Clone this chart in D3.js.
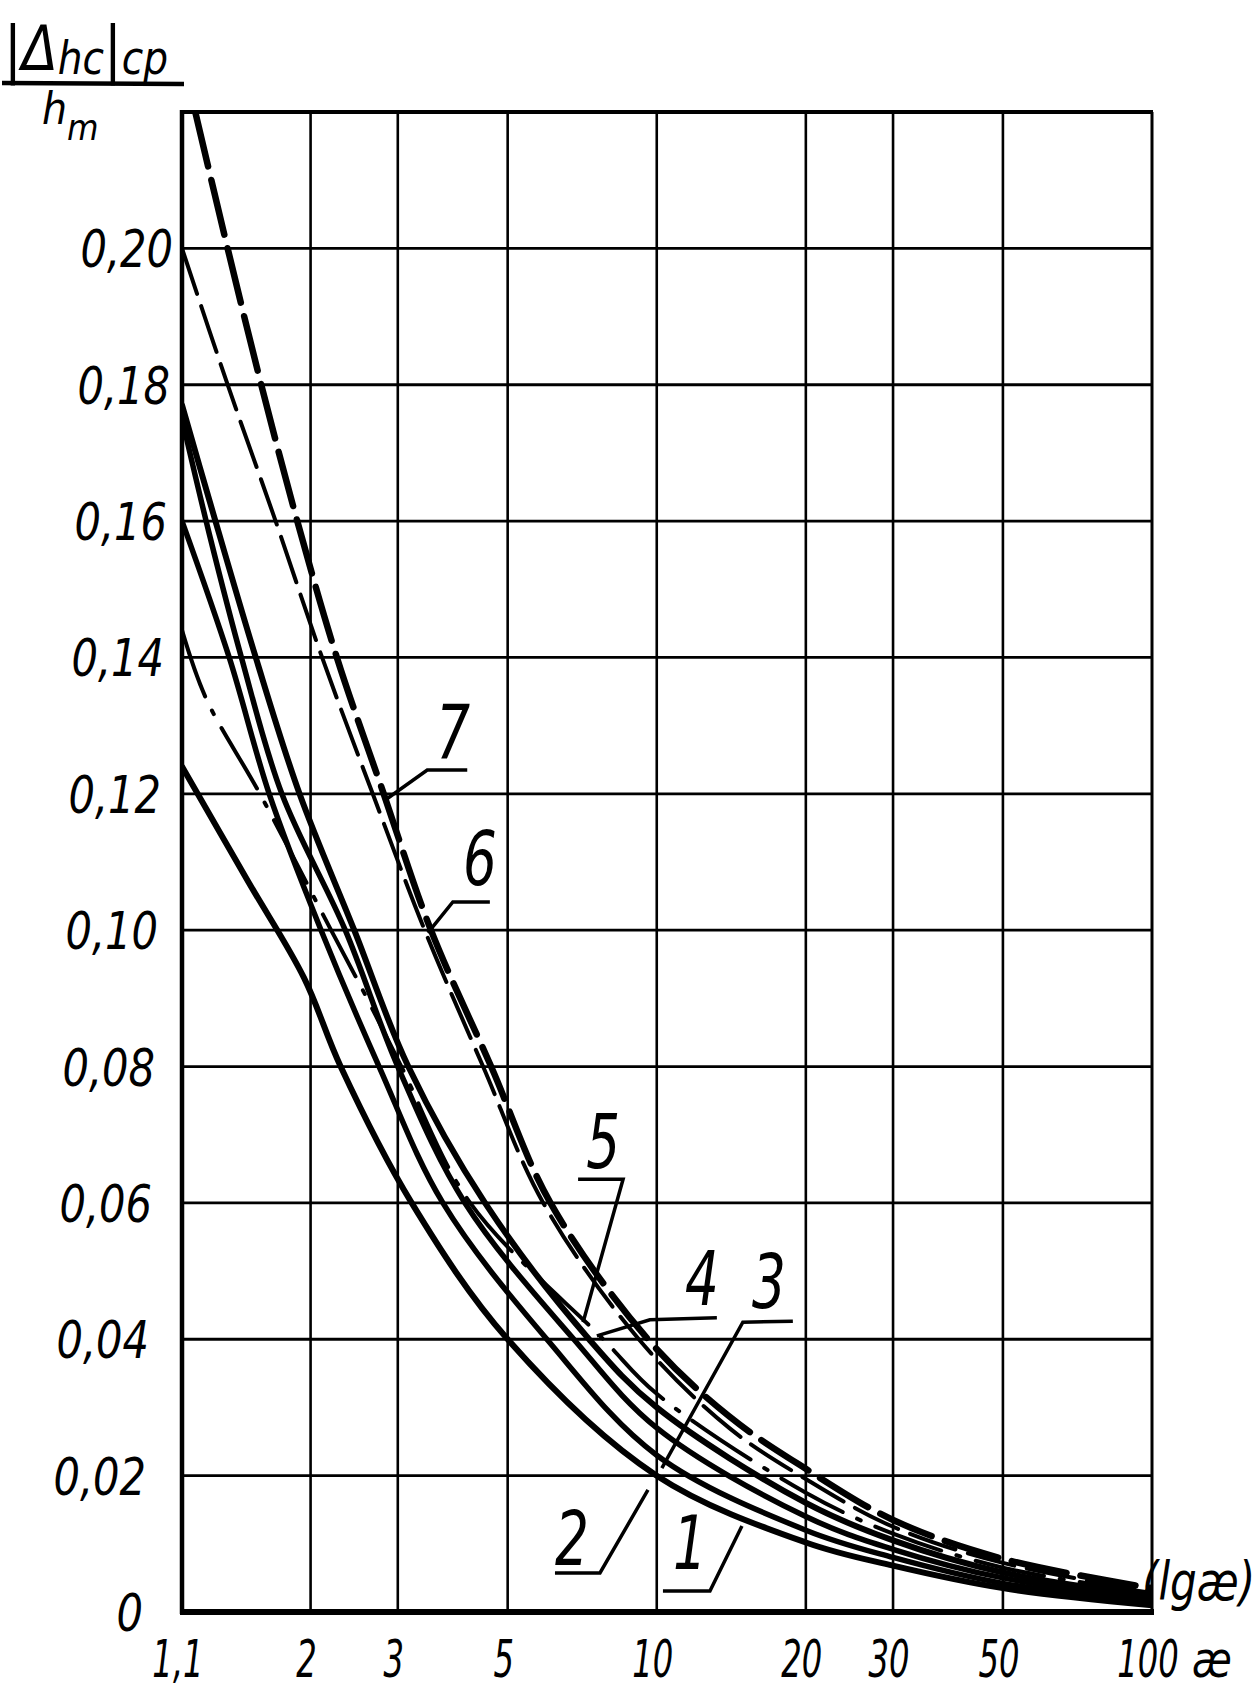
<!DOCTYPE html>
<html>
<head>
<meta charset="utf-8">
<script src="https://cdn.jsdelivr.net/npm/d3@7"></script>
<style>
  body { margin: 0; background: #fff; }
  text { font-family: "DejaVu Sans", sans-serif; font-style: italic; fill: #000; }
</style>
</head>
<body>
<script>
// axis ticks
const xTicks = [1.1, 2, 3, 5, 10, 20, 30, 50, 100];
const xTickLabels = ["1,1", "2", "3", "5", "10", "20", "30", "50", "100"];
const yTicks = [0, 0.02, 0.04, 0.06, 0.08, 0.10, 0.12, 0.14, 0.16, 0.18, 0.20];
const yTickLabels = ["0", "0,02", "0,04", "0,06", "0,08", "0,10", "0,12", "0,14", "0,16", "0,18", "0,20"];

// curves (x = ae, y = |dhc|cp / hm)
const c1x = [1.1, 1.5, 1.94, 2.3, 3.2, 5.0, 10, 20, 30, 50, 100];
const c1y = [0.124, 0.107, 0.093, 0.080, 0.060, 0.040, 0.020, 0.0102, 0.0068, 0.0035, 0.001];
const c2x = [1.1, 1.37, 1.65, 2.1, 2.75, 3.7, 6.0, 10, 20, 30, 50, 100];
const c2y = [0.160, 0.140, 0.120, 0.100, 0.080, 0.060, 0.040, 0.023, 0.012, 0.008, 0.0042, 0.0015];
const c3x = [1.1, 1.25, 1.45, 1.75, 2.35, 3.0, 4.1, 6.8, 10, 20, 30, 50, 100];
const c3y = [0.175, 0.158, 0.140, 0.120, 0.100, 0.080, 0.060, 0.040, 0.027, 0.014, 0.0092, 0.005, 0.002];
const c4x = [1.1, 1.23, 1.58, 2.2, 2.6, 3.05, 4.2, 7.8, 10, 20, 30, 50, 100];
const c4y = [0.144, 0.134, 0.120, 0.100, 0.090, 0.080, 0.060, 0.040, 0.032, 0.0175, 0.0115, 0.0065, 0.0028];
const c5x = [1.1, 1.25, 1.55, 1.9, 2.45, 3.15, 4.5, 7.3, 10, 20, 30, 50, 100];
const c5y = [0.177, 0.163, 0.140, 0.120, 0.100, 0.080, 0.060, 0.040, 0.030, 0.016, 0.0105, 0.0058, 0.0024];
const c6x = [1.1, 1.36, 1.70, 2.11, 2.67, 3.4, 4.46, 5.9, 9.2, 14, 20, 30, 50, 100];
const c6y = [0.200, 0.180, 0.160, 0.140, 0.120, 0.100, 0.080, 0.060, 0.040, 0.027, 0.0195, 0.0125, 0.0072, 0.003];
const c7x = [1.17, 1.36, 1.59, 1.88, 2.26, 2.81, 3.5, 4.63, 6.1, 9.6, 14, 20, 30, 50, 100];
const c7y = [0.220, 0.200, 0.180, 0.160, 0.140, 0.120, 0.100, 0.080, 0.060, 0.040, 0.0287, 0.021, 0.0135, 0.0078, 0.0035];

// curve labels and where their leaders touch
const labelNames = ["1", "2", "3", "4", "5", "6", "7"];
const labelTipX = [14.86, 9.60, 10.24, 7.57, 7.10, 3.45, 2.83];
const labelTipY = [0.0126, 0.0179, 0.0211, 0.0405, 0.0425, 0.0996, 0.1191];

const width = 1260, height = 1692;
const mLeft = 182, mRight = 1152, mTop = 112, mBottom = 1612;

const x = d3.scaleLog().domain([1.1, 100]).range([mLeft, mRight]);
const y = d3.scaleLinear().domain([0, 0.22]).range([mBottom, mTop]);

const svg = d3.select("body").append("svg")
    .attr("width", width)
    .attr("height", height);

svg.append("rect").attr("width", width).attr("height", height).attr("fill", "#fff");

// squeezed italic text, like the hand lettering
function label(txt, px, py, size, sx, anchor) {
    return svg.append("text")
        .attr("transform", `translate(${px},${py}) scale(${sx},1)`)
        .attr("text-anchor", anchor || "middle")
        .attr("font-size", size)
        .text(txt);
}

// grid
svg.append("g").selectAll("line")
    .data(xTicks.slice(1, -1)).enter()
    .append("line")
    .attr("x1", d => x(d)).attr("x2", d => x(d))
    .attr("y1", mTop).attr("y2", mBottom)
    .attr("stroke", "#000").attr("stroke-width", 2.6);

svg.append("g").selectAll("line")
    .data(yTicks.slice(1)).enter()
    .append("line")
    .attr("x1", mLeft).attr("x2", mRight)
    .attr("y1", d => y(d)).attr("y2", d => y(d))
    .attr("stroke", "#000").attr("stroke-width", 2.8);

// frame
svg.append("line").attr("x1", mLeft - 2).attr("x2", mRight + 1).attr("y1", mTop).attr("y2", mTop)
    .attr("stroke", "#000").attr("stroke-width", 4);
svg.append("line").attr("x1", mLeft).attr("x2", mLeft).attr("y1", mTop - 2).attr("y2", mBottom + 2)
    .attr("stroke", "#000").attr("stroke-width", 4.5);
svg.append("line").attr("x1", mRight).attr("x2", mRight).attr("y1", mTop).attr("y2", mBottom)
    .attr("stroke", "#000").attr("stroke-width", 3);
svg.append("line").attr("x1", mLeft - 2).attr("x2", mRight + 2).attr("y1", mBottom).attr("y2", mBottom)
    .attr("stroke", "#000").attr("stroke-width", 6);

// curves
const curves = [
    { xs: c1x, ys: c1y, w: 6, dash: null },
    { xs: c2x, ys: c2y, w: 5.5, dash: null },
    { xs: c3x, ys: c3y, w: 5.5, dash: null },
    { xs: c4x, ys: c4y, w: 4, dash: "70,16,4,16" },
    { xs: c5x, ys: c5y, w: 6, dash: null },
    { xs: c6x, ys: c6y, w: 4, dash: "48,13" },
    { xs: c7x, ys: c7y, w: 6.5, dash: "56,14" }
];

svg.append("clipPath").attr("id", "plot")
    .append("rect").attr("x", mLeft).attr("y", mTop).attr("width", mRight - mLeft).attr("height", mBottom - mTop);

const line = d3.line()
    .x(d => x(d[0]))
    .y(d => y(d[1]))
    .curve(d3.curveCatmullRom.alpha(0.5));

svg.append("g").attr("clip-path", "url(#plot)")
    .selectAll("path")
    .data(curves).enter()
    .append("path")
    .attr("d", c => line(c.xs.map((v, i) => [v, c.ys[i]])))
    .attr("fill", "none")
    .attr("stroke", "#000")
    .attr("stroke-width", c => c.w)
    .attr("stroke-dasharray", c => c.dash)
    .attr("stroke-linecap", "round");

// y tick labels (lean a little left going down, like the original)
yTicks.forEach((t, i) => {
    const py = y(t);
    label(yTickLabels[i], 173 - (py - 250) * 0.022, py + 19, 52, 0.8, "end");
});

// x tick labels
xTicks.forEach((t, i) => {
    label(xTickLabels[i], x(t) - 4, 1677, 52, 0.62, "middle");
});
label("æ", 1212, 1677, 50, 0.8, "middle");
label("(lgæ)", 1142, 1600, 54, 0.78, "start");

// axis title |Δhc|cp / hm
const title = svg.append("text")
    .attr("transform", "translate(4,70) scale(0.85,1)")
    .attr("font-size", 62);
title.append("tspan").text("|Δ");
title.append("tspan").attr("font-size", 46).attr("dy", 4).text("hc");
title.append("tspan").attr("font-size", 62).attr("dy", -4).text("|");
title.append("tspan").attr("font-size", 46).attr("dy", 4).text("cp");
svg.append("line").attr("x1", 2).attr("x2", 184).attr("y1", 83).attr("y2", 84)
    .attr("stroke", "#000").attr("stroke-width", 4.5);
const den = svg.append("text")
    .attr("transform", "translate(42,124) scale(0.9,1)")
    .attr("font-size", 44);
den.append("tspan").text("h");
den.append("tspan").attr("font-size", 36).attr("dy", 16).text("m");

// curve labels with leader lines
const leaderOffsets = [
    { elbow: [-32, 65], end: [-79, 65], text: [-52, 43] },
    { elbow: [-48, 83], end: [-93, 83], text: [-76, 75] },
    { elbow: [81, -146], end: [131, -147], text: [107, -160] },
    { elbow: [53, -16], end: [120, -18], text: [105, -31] },
    { elbow: [40, -143], end: [-5, -143], text: [20, -154] },
    { elbow: [25, -31], end: [62, -31], text: [52, -48] },
    { elbow: [42, -30], end: [82, -30], text: [68, -42] }
];

labelNames.forEach((name, i) => {
    const tx = x(labelTipX[i]), ty = y(labelTipY[i]);
    const o = leaderOffsets[i];
    svg.append("polyline")
        .attr("points", [[tx, ty], [tx + o.elbow[0], ty + o.elbow[1]], [tx + o.end[0], ty + o.end[1]]].map(p => p.join(",")).join(" "))
        .attr("fill", "none")
        .attr("stroke", "#000")
        .attr("stroke-width", 3.5);
    label(name, tx + o.text[0], ty + o.text[1], 74, 0.72, "middle");
});
</script>
</body>
</html>
